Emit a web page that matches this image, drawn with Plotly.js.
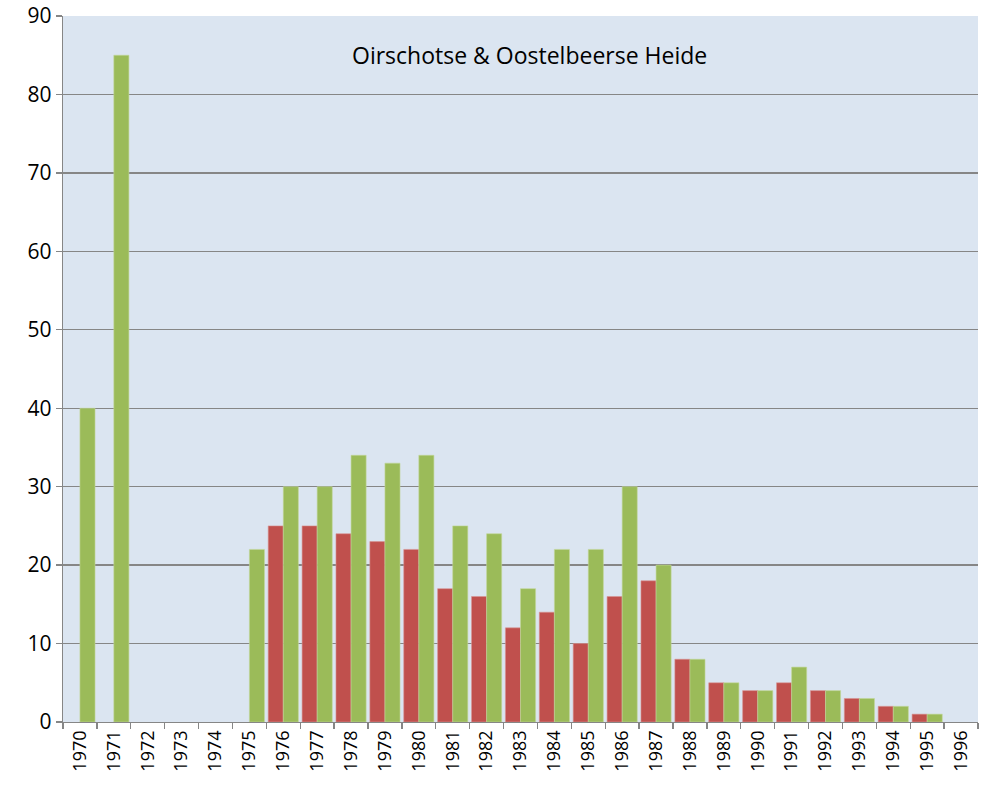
<!DOCTYPE html>
<html>
<head>
<meta charset="utf-8">
<script src="https://cdn.plot.ly/plotly-3.0.1.min.js"></script>
<style>
body{margin:0;padding:0;background:#fff;}
#chart{width:985px;height:790px;}
</style>
</head>
<body>
<div id="chart"></div>
<script>
// years on the x axis
const years = ["1970","1971","1972","1973","1974","1975","1976","1977","1978","1979",
"1980","1981","1982","1983","1984","1985","1986","1987","1988","1989",
"1990","1991","1992","1993","1994","1995","1996"];

// red series
const redVals = [null,null,null,null,null,null,25,25,24,23,
22,17,16,12,14,10,16,18,8,5,
4,5,4,3,2,1,null];

// green series
const greenVals = [40,85,null,null,null,22,30,30,34,33,
34,25,24,17,22,22,30,20,8,5,
4,7,4,3,2,1,null];

const yTicks = [0,10,20,30,40,50,60,70,80,90];

const traces = [
{
type:"bar",
x:years,
y:redVals,
marker:{color:"#C0504D",line:{color:"#D99593",width:0.6}},
hoverinfo:"x+y"
},
{
type:"bar",
x:years,
y:greenVals,
marker:{color:"#9BBB59",line:{color:"#C3D69B",width:0.6}},
hoverinfo:"x+y"
}
];

const layout = {
width:985,
height:790,
margin:{l:63,r:7,t:16,b:68},
paper_bgcolor:"#ffffff",
plot_bgcolor:"#DBE5F1",
showlegend:false,
barmode:"group",
bargap:0.11,
bargroupgap:0,
font:{family:"Open Sans, Liberation Sans, sans-serif",size:20,color:"#000"},
annotations:[{
text:"Oirschotse &amp; Oostelbeerse Heide",
xref:"paper",yref:"paper",
x:0.51,y:0.945,
xanchor:"center",yanchor:"middle",
showarrow:false,
font:{size:23,color:"#000"}
}],
xaxis:{
type:"category",
tickangle:-90,
tickson:"boundaries",
ticks:"outside",
ticklen:6,
tickcolor:"#868686",
tickwidth:1.3,
showline:true,
linecolor:"#868686",
linewidth:1.3,
showgrid:false,
tickfont:{size:18}
},
yaxis:{
range:[0,90],
tickvals:yTicks,
ticks:"outside",
ticklen:6,
tickcolor:"#868686",
tickwidth:1.3,
showline:true,
linecolor:"#868686",
linewidth:1.3,
showgrid:true,
gridcolor:"#868686",
gridwidth:1.3,
zeroline:false,
tickfont:{size:21}
}
};

Plotly.newPlot("chart",traces,layout,{displayModeBar:false,staticPlot:true});
</script>
</body>
</html>
